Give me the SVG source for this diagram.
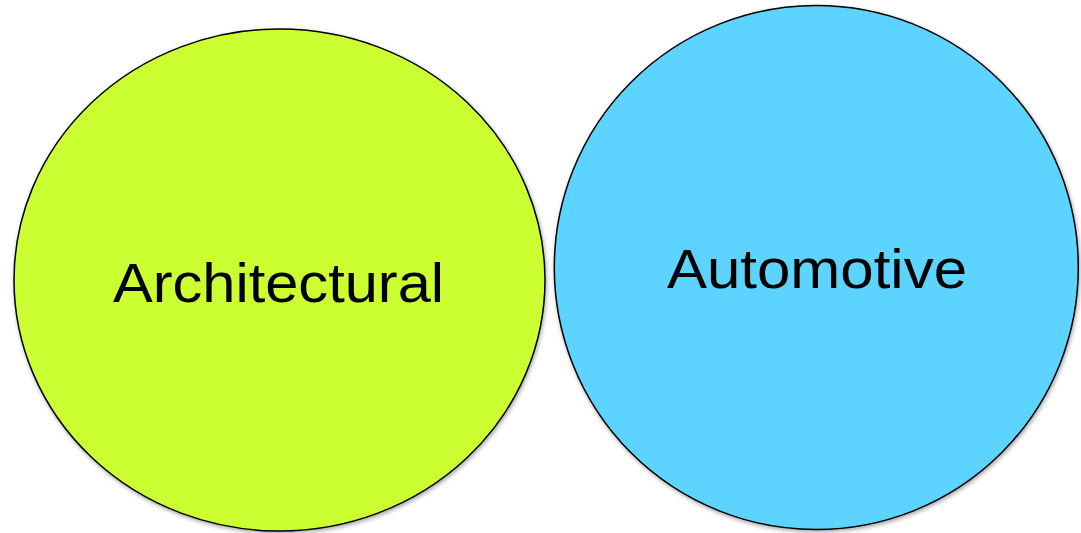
<svg xmlns="http://www.w3.org/2000/svg" width="1081" height="533" viewBox="0 0 1081 533">
  <defs>
    <filter id="shadow" x="-10%" y="-10%" width="120%" height="120%">
      <feGaussianBlur in="SourceAlpha" stdDeviation="2"/>
      <feOffset dx="1" dy="2" result="b"/>
      <feComponentTransfer><feFuncA type="linear" slope="0.35"/></feComponentTransfer>
      <feMerge><feMergeNode/><feMergeNode in="SourceGraphic"/></feMerge>
    </filter>
  </defs>
  <style>
    .shape { stroke: #000000; stroke-width: 1.5; filter: url(#shadow); }
    .label { font-family: "Liberation Sans", Arial, sans-serif; font-size: 56px; fill: #000000; }
  </style>
  <rect width="1081" height="533" fill="#ffffff"/>
  <g id="node-architectural">
    <ellipse class="shape" cx="279.5" cy="280" rx="265.5" ry="251" fill="#CCFF33"/>
    <text class="label" x="113" y="302" textLength="331" lengthAdjust="spacingAndGlyphs">Architectural</text>
  </g>
  <g id="node-automotive">
    <ellipse class="shape" cx="816.3" cy="267.5" rx="262" ry="262" fill="#5DD3FF"/>
    <text class="label" x="667" y="288" textLength="300" lengthAdjust="spacingAndGlyphs">Automotive</text>
  </g>
  <g id="connectors"></g>
</svg>
